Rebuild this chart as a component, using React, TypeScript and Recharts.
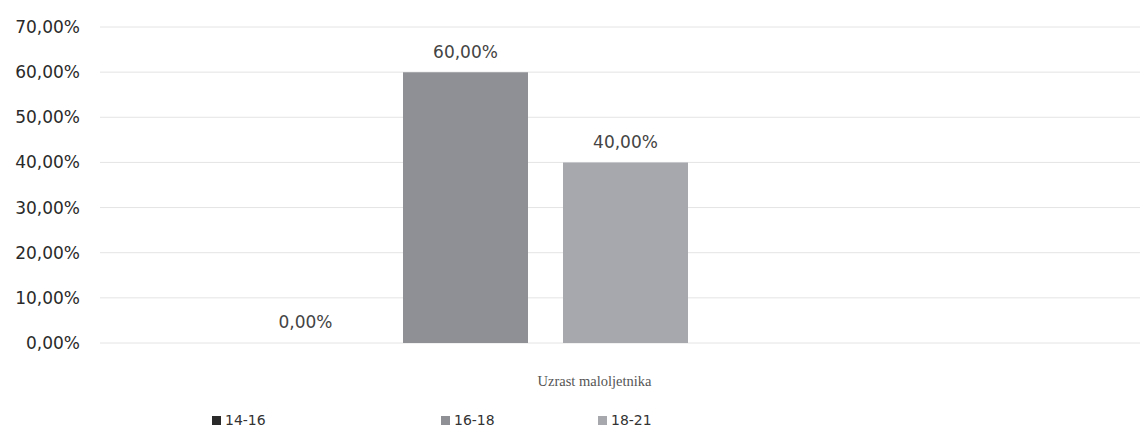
import { BarChart, Bar, XAxis, YAxis, CartesianGrid, Rectangle } from "recharts";

const category = "Uzrast maloljetnika";
const ageGroups = ["14-16", "16-18", "18-21"];
const shares = [0, 60, 40];
const yTicks = [0, 10, 20, 30, 40, 50, 60, 70];

const barColors = ["#2a2a2a", "#8e9095", "#a6a8ad"];
const legendLeft = [212, 441, 598];

const row: Record<string, string | number> = { name: category };
ageGroups.forEach((g, i) => {
  row[g] = shares[i];
});
const data = [row];

const pct = (v: number) => v.toFixed(2).replace(".", ",") + "%";

// draws the value above each bar, also for a zero bar
const renderValue = (props: any) => {
  const { x, y, width, value } = props;
  return (
    <text
      x={x + width / 2}
      y={y - 14}
      textAnchor="middle"
      style={{ fontFamily: "DejaVu Sans", fontSize: 17, fill: "#444" }}
    >
      {pct(Number(value))}
    </text>
  );
};

// zero bars get a 1px min size so their label shows, but draw nothing
const renderBar = (props: any) => (props.height > 1.5 ? <Rectangle {...props} /> : <g />);

function LegendRow() {
  return (
    <div style={{ position: "absolute", left: 0, top: 412, width: 1147, height: 20, fontFamily: "DejaVu Sans", fontSize: 14, color: "#333" }}>
      {ageGroups.map((g, i) => (
        <span key={g} style={{ position: "absolute", left: legendLeft[i], top: 0, display: "flex", alignItems: "center" }}>
          <span style={{ display: "inline-block", width: 9, height: 9, background: barColors[i], marginRight: 4 }} />
          {g}
        </span>
      ))}
    </div>
  );
}

export default function App() {
  return (
    <div style={{ position: "absolute", left: 0, top: 0, width: 1147, height: 432, background: "#fff" }}>
      <BarChart
        width={1147}
        height={432}
        data={data}
        margin={{ top: 27, right: 7, bottom: 59, left: 0 }}
        barSize={125}
        barGap={35}
        barCategoryGap={0}
      >
        <CartesianGrid vertical={false} stroke="#e4e4e4" />
        <XAxis
          dataKey="name"
          axisLine={false}
          tickLine={false}
          padding={{ left: 141, right: 450 }}
          tick={{ fontFamily: "Liberation Serif", fontSize: 14.5, fill: "#555", dx: 129 }}
          tickMargin={27}
        />
        <YAxis
          width={100}
          domain={[0, 70]}
          ticks={yTicks}
          axisLine={false}
          tickLine={false}
          tickSize={0}
          tickMargin={20}
          tickFormatter={pct}
          tick={{ fontFamily: "DejaVu Sans", fontSize: 17, fill: "#2a2a2a" }}
        />
        {ageGroups.map((g, i) => (
          <Bar
            key={g}
            dataKey={g}
            fill={barColors[i]}
            minPointSize={1}
            shape={renderBar}
            isAnimationActive={false}
            label={renderValue}
          />
        ))}
      </BarChart>
      <LegendRow />
    </div>
  );
}
